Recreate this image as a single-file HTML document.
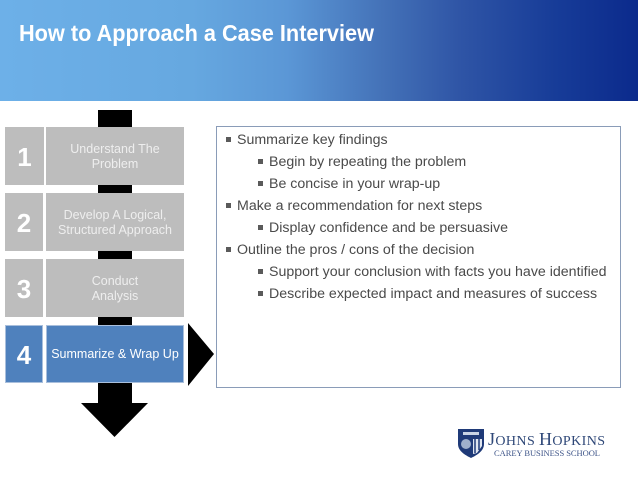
<!DOCTYPE html>
<html>
<head>
<meta charset="utf-8">
<style>
html,body{margin:0;padding:0;background:#fff}
#p{position:relative;width:638px;height:478px;overflow:hidden;background:#fff;font-family:"Liberation Sans",sans-serif;filter:blur(0.3px)}
.a{position:absolute}
#hd{left:0;top:0;width:638px;height:101px;background:linear-gradient(90deg,#6db0e8 0%,#66a8e0 30%,#5b97d6 45%,#4472b8 60%,#2f55a6 72%,#173c98 87%,#0b2a8c 100%)}
.g{background:#bdbdbd}
.b{background:#4f81bd;outline:1px solid #a9bfdc;outline-offset:-1px}
.k{background:#000}
.n{color:#fff;font-weight:bold;font-size:26px;text-align:center;line-height:60px}
.t{color:#eeeeee;font-size:12.5px;line-height:15px;text-align:center;display:flex;align-items:center;justify-content:center;padding-top:1px;box-sizing:border-box}
.l{color:#4a4a4a;font-size:14.2px;line-height:22px;white-space:nowrap}
.d{width:5px;height:5px;background:#5a5a5a}
</style>
</head>
<body>
<div id="p">
<div class="a" id="hd"></div>
<svg class="a" style="left:0;top:0" width="638" height="101"><text x="19" y="41" font-family="Liberation Sans" font-weight="bold" font-size="23" fill="#fff" textLength="355" lengthAdjust="spacingAndGlyphs">How to Approach a Case Interview</text></svg>

<div class="a k" style="left:98px;top:110px;width:34px;height:18px"></div>
<div class="a k" style="left:98px;top:184px;width:34px;height:10px"></div>
<div class="a k" style="left:98px;top:250px;width:34px;height:10px"></div>
<div class="a k" style="left:98px;top:316px;width:34px;height:10px"></div>

<div class="a g n" style="left:5px;top:127px;width:39px;height:58px">1</div>
<div class="a g t" style="left:46px;top:127px;width:138px;height:58px">Understand The<br>Problem</div>
<div class="a g n" style="left:5px;top:193px;width:38px;height:58px">2</div>
<div class="a g t" style="left:46px;top:193px;width:138px;height:58px">Develop A Logical,<br>Structured Approach</div>
<div class="a g n" style="left:5px;top:259px;width:38px;height:58px">3</div>
<div class="a g t" style="left:46px;top:259px;width:138px;height:58px">Conduct<br>Analysis</div>
<div class="a b n" style="left:5px;top:325px;width:38px;height:58px">4</div>
<div class="a b t" style="left:46px;top:325px;width:138px;height:58px;color:#fff">Summarize &amp; Wrap Up</div>

<svg class="a" style="left:0;top:320px" width="220" height="125">
<polygon points="188,3 214,34 188,66" fill="#000"/>
<polygon points="98,63 132,63 132,83 148,83 114.500,117 81,83 98,83" fill="#000"/>
</svg>

<div class="a" style="left:216px;top:126px;width:403px;height:260px;border:1px solid #8a9cb8;background:#fff"></div>

<div class="a d" style="left:226px;top:137px"></div><div class="a l" style="left:237px;top:129px">Summarize key findings</div>
<div class="a d" style="left:258px;top:159px"></div><div class="a l" style="left:269px;top:151px">Begin by repeating the problem</div>
<div class="a d" style="left:258px;top:181px"></div><div class="a l" style="left:269px;top:173px">Be concise in your wrap-up</div>
<div class="a d" style="left:226px;top:203px"></div><div class="a l" style="left:237px;top:195px">Make a recommendation for next steps</div>
<div class="a d" style="left:258px;top:225px"></div><div class="a l" style="left:269px;top:217px">Display confidence and be persuasive</div>
<div class="a d" style="left:226px;top:247px"></div><div class="a l" style="left:237px;top:239px">Outline the pros / cons of the decision</div>
<div class="a d" style="left:258px;top:269px"></div><div class="a l" style="left:269px;top:261px">Support your conclusion with facts you have identified</div>
<div class="a d" style="left:258px;top:291px"></div><div class="a l" style="left:269px;top:283px">Describe expected impact and measures of success</div>

<svg class="a" style="left:450px;top:420px" width="188" height="50">
<path d="M8,9 H34 V24 C34,31 27,35 21,38 C15,35 8,31 8,24 Z" fill="#1f3a78"/>
<circle cx="16" cy="24" r="5" fill="#9fb0cc"/>
<path d="M23,19 L32,19 L32,26 L27,33 L23,34 Z" fill="#dfe5ef"/>
<path d="M25,19 V33 M29,19 V30" stroke="#1f3a78" stroke-width="1.5"/>
<path d="M13,12 H29 V15 H13 Z" fill="#c9d3e4"/>
<text x="38" y="25" font-family="Liberation Serif" font-size="14" fill="#2f4878" textLength="117" lengthAdjust="spacing"><tspan font-size="18">J</tspan>OHNS <tspan font-size="18">H</tspan>OPKINS</text>
<text x="44" y="36" font-family="Liberation Serif" font-size="8.500" fill="#3d5488" textLength="106" lengthAdjust="spacing">CAREY BUSINESS SCHOOL</text>
</svg>
</div>
</body>
</html>
